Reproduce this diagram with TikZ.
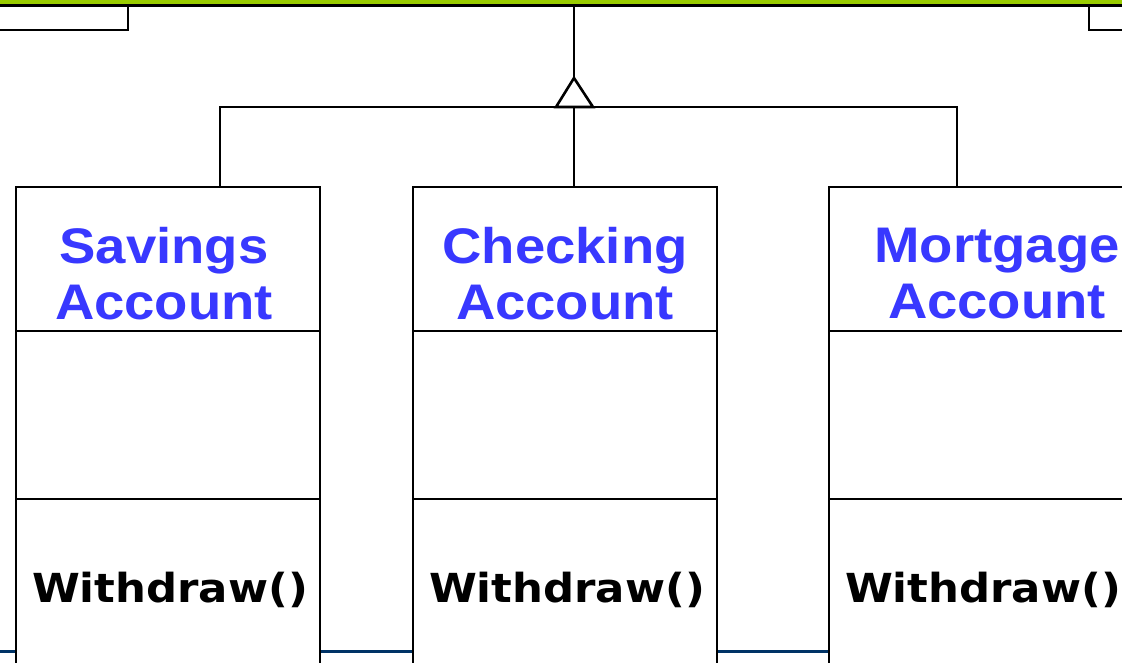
\documentclass[tikz,border=0pt]{standalone}
\usepackage{fontspec}
\setmainfont{Liberation Sans}
\newfontfamily\wdfont{DejaVu Sans}
\definecolor{topgreen}{RGB}{153,204,0}
\definecolor{navyline}{RGB}{0,51,102}
\definecolor{nameblue}{RGB}{56,56,255}
\begin{document}
\begin{tikzpicture}[x=1pt,y=-1pt,
  classbox/.style={draw=black,line width=2.6pt,fill=white,minimum width=304pt,minimum height=520pt,anchor=north west,inner sep=0pt,outer sep=0pt},
  conn/.style={draw=black,line width=2.6pt},
  nametext/.style={text=nameblue,font=\fontsize{50}{56}\selectfont\bfseries,align=center,inner sep=0pt,xscale=1.09},
  optext/.style={text=black,font=\wdfont\fontsize{40}{44}\selectfont\bfseries,inner sep=0pt,anchor=base,xscale=1.085}
]
\useasboundingbox (0,0) rectangle (1122,663);
\fill[white] (0,0) rectangle (1122,663);
% background line
\draw[navyline,line width=2.5pt] (-5,651.5) -- (1130,651.5);
% top frame
\fill[topgreen] (0,0) rectangle (1122,4.5);
\draw[black,line width=2.6pt] (-5,5.5) -- (1130,5.5);
\draw[black,line width=2.6pt] (-5,30) -- (128,30) -- (128,5.5);
\draw[black,line width=2.6pt] (1135,30) -- (1089,30) -- (1089,5.5);
% classes
\node[classbox] (sav) at (16,187) {};
\node[classbox] (chk) at (413,187) {};
\node[classbox] (mor) at (829,187) {};
\foreach \b in {sav,chk,mor}{
  \draw[line width=2.6pt] ([yshift=-144pt]\b.north west) -- ([yshift=-144pt]\b.north east);
  \draw[line width=2.6pt] ([yshift=-312pt]\b.north west) -- ([yshift=-312pt]\b.north east);
}
\node[nametext] (savn) at (164,274) {Savings\\Account};
\node[nametext] (chkn) at (565,274) {Checking\\Account};
\node[nametext] (morn) at (997,274) {Mortgage\\Account};
\node[optext] (savo) at (170,602) {Withdraw()};
\node[optext] (chko) at (567,602) {Withdraw()};
\node[optext] (moro) at (983,602) {Withdraw()};
% generalization
\coordinate (top) at (574,6);
\coordinate (apex) at (574,78);
\coordinate (bl) at (556,107);
\coordinate (br) at (593,107);
\coordinate (bar) at (574,107);
\draw[conn] (top) -- (apex);
\draw[conn,line join=miter] (apex) -- (br) -- (bl) -- cycle;
\draw[conn] (sav.north -| 220,0) -- (220,107) -- (bl);
\draw[conn] (mor.north -| 957,0) -- (957,107) -- (br);
\draw[conn] (chk.north -| bar) -- (bar);
\end{tikzpicture}
\end{document}
